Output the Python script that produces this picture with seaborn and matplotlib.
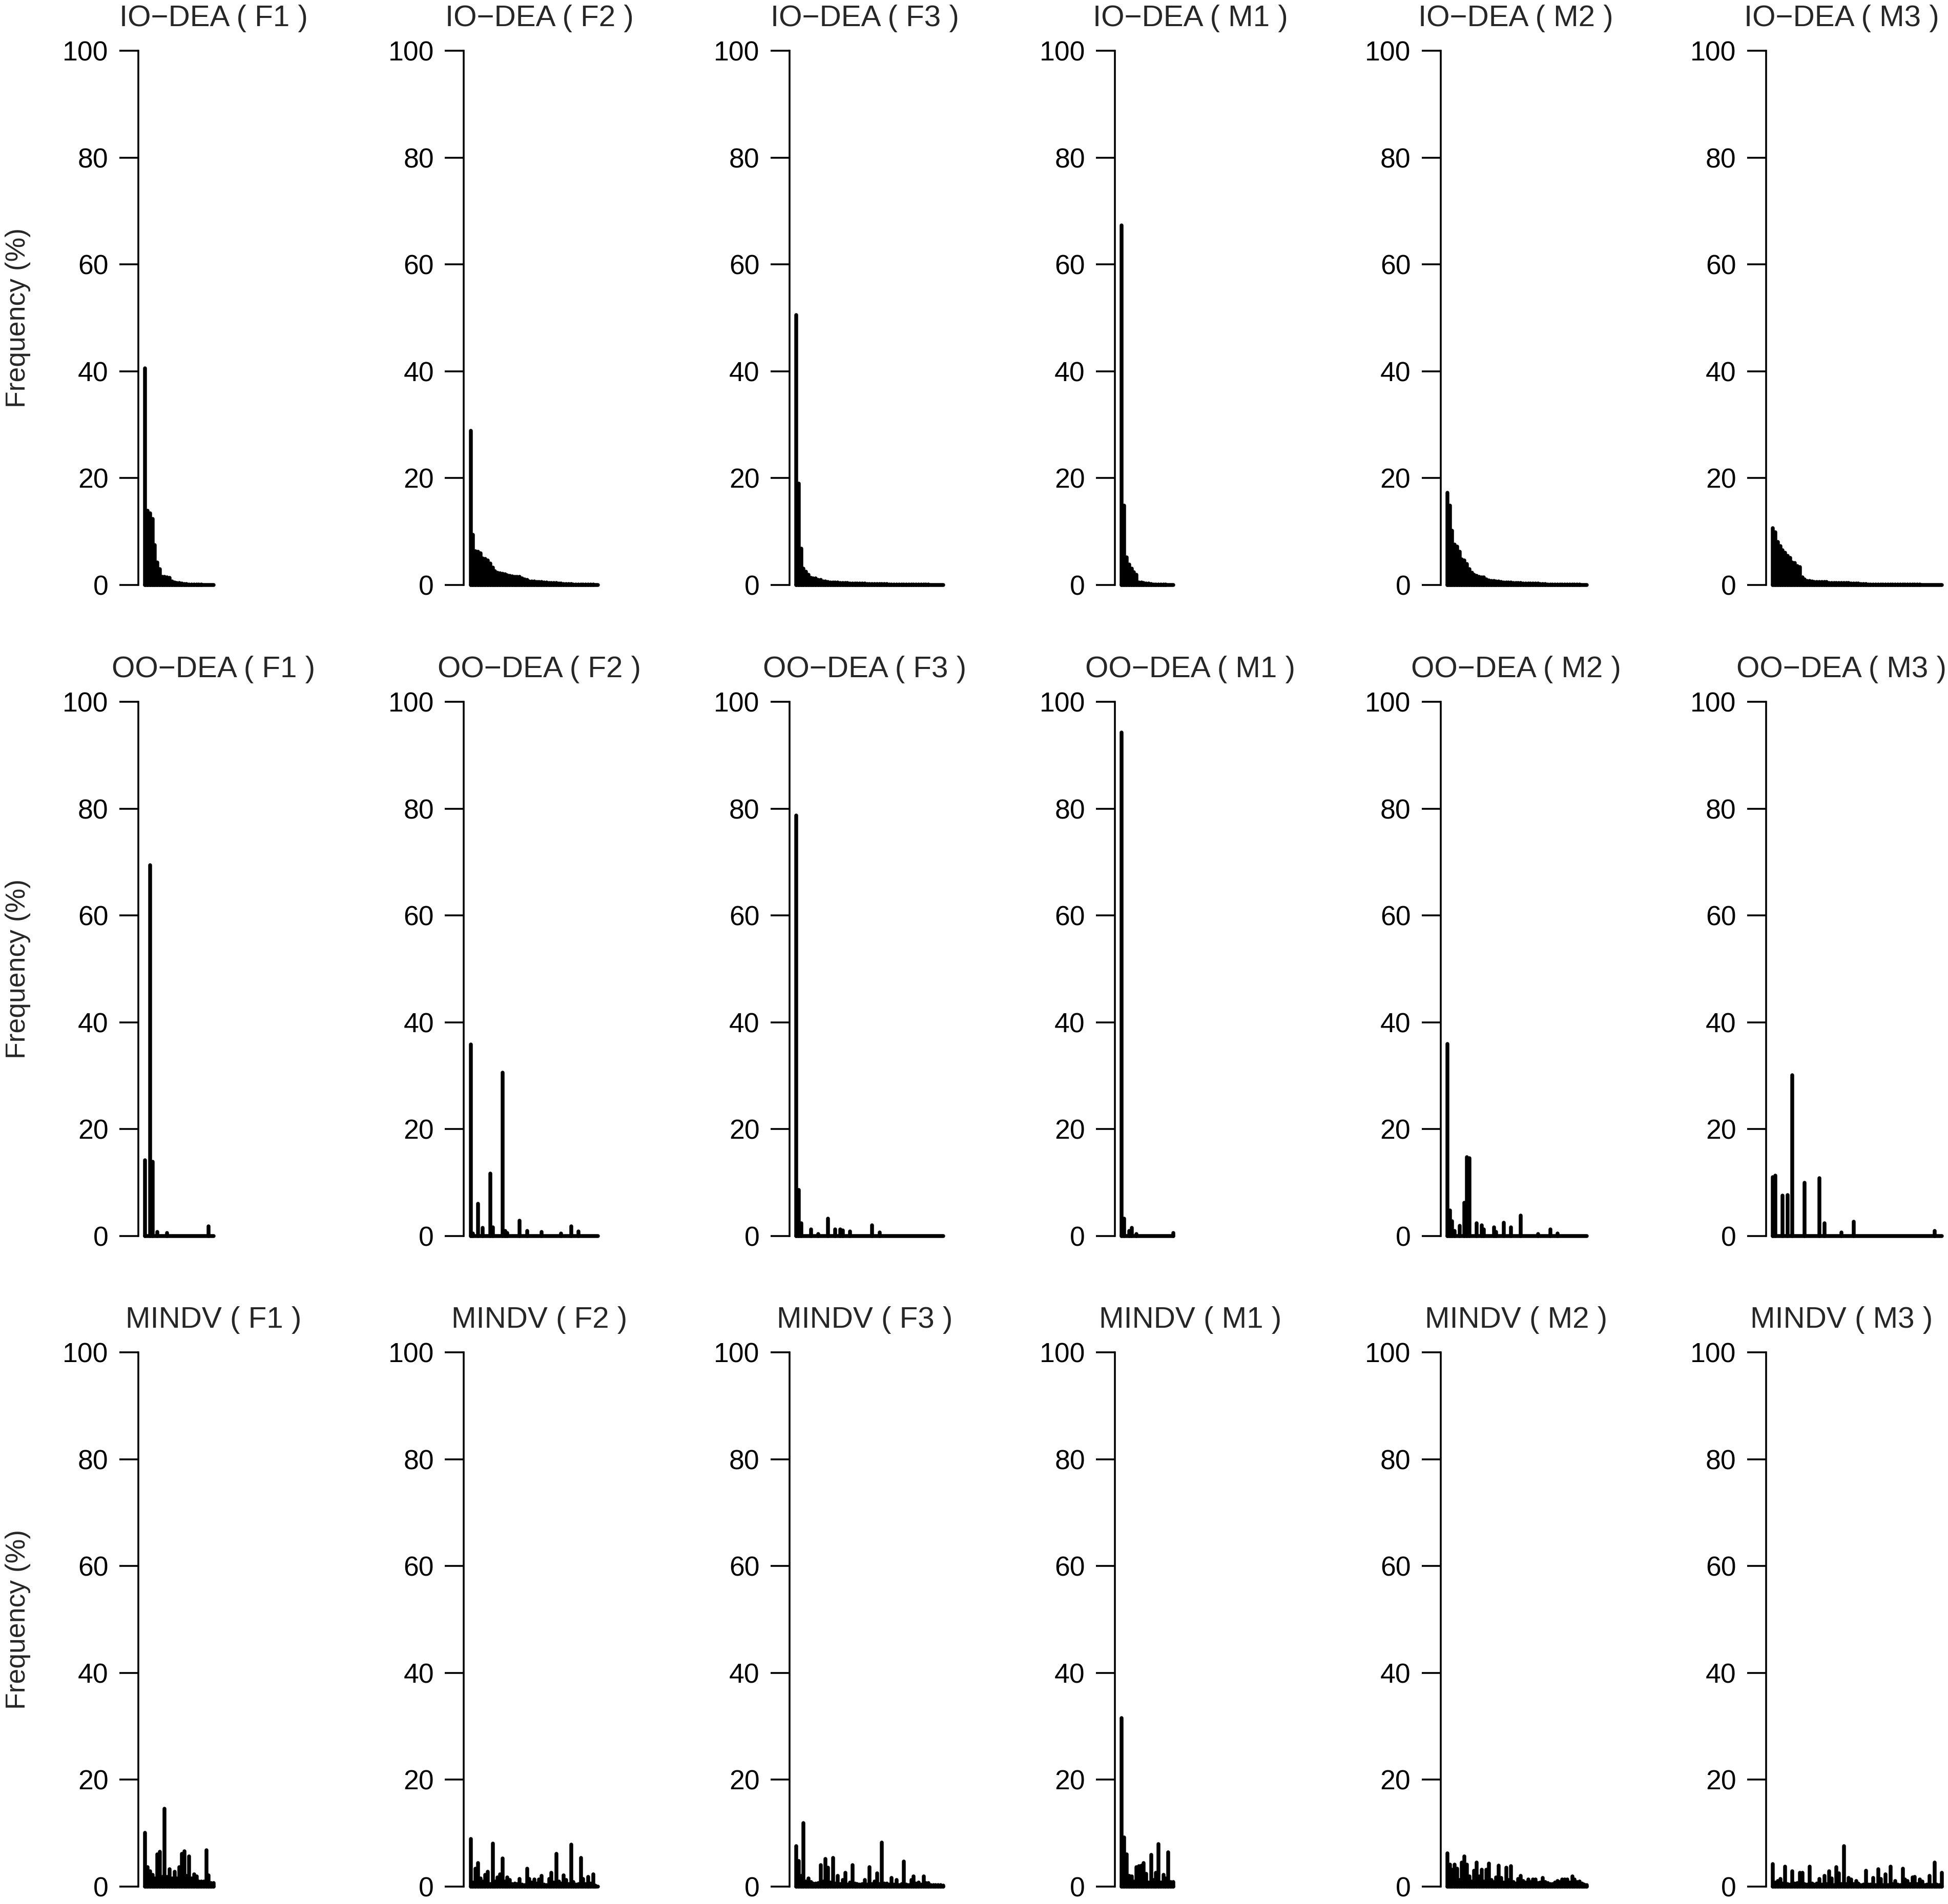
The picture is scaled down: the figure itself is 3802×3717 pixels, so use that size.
import numpy as np
import matplotlib
matplotlib.use("Agg")
import matplotlib.pyplot as plt
import seaborn as sns

# ---- data: frequency (%) per position ----
datasets = ["F1", "F2", "F3", "M1", "M2", "M3"]
methods = ["IO\u2212DEA", "OO\u2212DEA", "MINDV"]

# IO-DEA
io_f1 = [40.6, 13.9, 13.4, 12.4, 7.5, 4.2, 3.0, 1.5, 1.5, 1.4,
         1.3, 0.7, 0.45, 0.4, 0.35, 0.3, 0.2, 0.15, 0.12, 0.1,
         0.1, 0.08, 0.06, 0.05, 0.04, 0.03, 0.02, 0.02, 0.01]
io_f2 = [28.9, 9.4, 6.3, 6.2, 5.9, 5.0, 4.9, 4.6, 4.0, 3.3,
         2.6, 2.3, 2.2, 2.1, 2.0, 1.8, 1.7, 1.6, 1.55, 1.5,
         1.5, 1.2, 1.1, 1.0, 0.7, 0.68, 0.65, 0.6, 0.58, 0.55,
         0.5, 0.45, 0.42, 0.4, 0.38, 0.35, 0.33, 0.25, 0.22, 0.2,
         0.2, 0.15, 0.14, 0.12, 0.11, 0.1, 0.09, 0.08, 0.07, 0.06,
         0.05, 0.04, 0.03]
io_f3 = [50.5, 19.0, 6.8, 3.1, 2.5, 1.9, 1.3, 1.25, 1.2, 1.0,
         0.95, 0.7, 0.65, 0.55, 0.5, 0.5, 0.48, 0.45, 0.4, 0.38,
         0.36, 0.35, 0.33, 0.3, 0.28, 0.27, 0.26, 0.25, 0.24, 0.23,
         0.22, 0.2, 0.2, 0.18, 0.17, 0.16, 0.15, 0.15, 0.14, 0.13,
         0.12, 0.12, 0.11, 0.1, 0.1, 0.09, 0.09, 0.08, 0.08, 0.07,
         0.07, 0.06, 0.06, 0.05, 0.05, 0.04, 0.04, 0.03, 0.03, 0.02,
         0.02]
io_m1 = [67.3, 14.9, 5.2, 3.8, 3.1, 2.4, 1.9, 0.5, 0.45, 0.35,
         0.3, 0.3, 0.2, 0.12, 0.1, 0.08, 0.07, 0.06, 0.05, 0.04,
         0.03, 0.02]
io_m2 = [17.3, 14.9, 10.2, 7.6, 7.2, 6.2, 4.75, 4.6, 3.9, 3.0,
         2.3, 1.95, 1.75, 1.55, 1.45, 1.4, 1.05, 0.9, 0.8, 0.75,
         0.7, 0.67, 0.55, 0.52, 0.5, 0.48, 0.45, 0.43, 0.42, 0.4,
         0.35, 0.33, 0.31, 0.3, 0.28, 0.27, 0.25, 0.24, 0.23, 0.22,
         0.15, 0.14, 0.13, 0.12, 0.11, 0.1, 0.1, 0.09, 0.08, 0.08,
         0.07, 0.06, 0.06, 0.05, 0.05, 0.04, 0.04, 0.03]
io_m3 = [10.65, 9.85, 8.1, 7.3, 6.5, 6.0, 5.5, 5.05, 4.2, 4.1,
         3.5, 3.4, 1.4, 1.05, 0.8, 0.75, 0.65, 0.62, 0.6, 0.58,
         0.57, 0.56, 0.55, 0.42, 0.41, 0.4, 0.39, 0.38, 0.37, 0.36,
         0.35, 0.35, 0.25, 0.25, 0.24, 0.24, 0.23, 0.23, 0.22, 0.12,
         0.12, 0.11, 0.11, 0.1, 0.1, 0.1, 0.09, 0.09, 0.09, 0.08,
         0.08, 0.08, 0.07, 0.07, 0.07, 0.06, 0.06, 0.06, 0.05, 0.05,
         0.05, 0.04, 0.04, 0.04, 0.03, 0.03, 0.03, 0.02, 0.02, 0.02]

# OO-DEA
oo_f1 = [14.2, 0, 69.4, 13.9, 0, 0.8, 0, 0, 0, 0.6,
         0, 0, 0, 0, 0, 0, 0, 0, 0, 0,
         0, 0, 0, 0, 0, 0, 1.8, 0, 0]
oo_f2 = [35.9, 0.5, 0, 6.0, 0, 1.5, 0, 0, 11.7, 1.6,
         0, 0, 0, 30.6, 1.0, 0.6, 0, 0, 0, 0,
         2.9, 0, 0, 1.0, 0, 0, 0, 0, 0, 0.8,
         0, 0, 0, 0, 0, 0, 0, 0.45, 0, 0,
         0, 1.8, 0, 0, 0.9, 0, 0, 0, 0, 0,
         0, 0, 0]
oo_f3 = [78.7, 8.6, 2.4, 0, 0, 0, 1.2, 0, 0, 0.4,
         0, 0, 0, 3.3, 0, 0, 1.2, 0, 1.2, 1.1,
         0, 0, 0.9, 0, 0, 0, 0, 0, 0, 0,
         0, 2.0, 0, 0, 0.7, 0, 0, 0, 0, 0,
         0, 0, 0, 0, 0, 0, 0, 0, 0, 0,
         0, 0, 0, 0, 0, 0, 0, 0, 0, 0,
         0]
oo_m1 = [94.2, 3.3, 0, 1.0, 1.5, 0, 0.35, 0, 0, 0,
         0, 0, 0, 0, 0, 0, 0, 0, 0, 0,
         0, 0.6]
oo_m2 = [36.0, 4.8, 2.8, 1.0, 0, 1.9, 0, 6.2, 14.8, 14.6,
         0, 0, 2.4, 0, 2.0, 1.25, 0, 0, 0, 1.6,
         0.8, 0, 0, 2.5, 0, 0, 1.6, 0, 0, 0,
         3.8, 0, 0, 0, 0, 0, 0, 0.35, 0, 0,
         0, 0, 1.25, 0, 0, 0.45, 0, 0, 0, 0,
         0, 0, 0, 0, 0, 0, 0, 0]
oo_m3 = [11.0, 11.3, 0, 0, 7.6, 0, 7.7, 0, 30.1, 0,
         0, 0, 0, 10.0, 0, 0, 0, 0, 0, 10.8,
         0, 2.4, 0, 0, 0, 0, 0, 0, 0.7, 0,
         0, 0, 0, 2.7, 0, 0, 0, 0, 0, 0,
         0, 0, 0, 0, 0, 0, 0, 0, 0, 0,
         0, 0, 0, 0, 0, 0, 0, 0, 0, 0,
         0, 0, 0, 0, 0, 0, 1.0, 0, 0, 0]

# MINDV
mv_f1 = [10.1, 3.6, 2.9, 2.2, 1.5, 6.0, 6.5, 1.8, 14.6, 1.8,
         3.3, 1.5, 2.8, 1.5, 3.6, 6.1, 6.6, 2.0, 5.7, 1.5,
         2.3, 1.9, 1.0, 1.0, 1.0, 6.8, 2.1, 0.7, 0.7]
mv_f2 = [8.9, 0.8, 3.4, 4.4, 1.5, 1.0, 2.2, 2.8, 0.5, 8.1,
         1.0, 1.7, 2.3, 5.3, 1.0, 1.7, 1.25, 0.5, 0.6, 0.5,
         1.4, 0.4, 0.3, 3.4, 1.4, 0.8, 1.3, 0.6, 1.3, 2.0,
         0.4, 0.3, 1.4, 2.6, 0.8, 6.1, 1.0, 0.6, 2.1, 1.2,
         0.5, 7.9, 0.9, 0.4, 0.5, 5.4, 1.4, 0.5, 1.8, 0.6,
         2.3, 0.2, 0]
mv_f3 = [7.6, 4.8, 2.0, 11.9, 1.0, 1.5, 0.9, 0.6, 0.6, 0.7,
         4.0, 1.0, 5.2, 3.5, 0.8, 5.4, 0.6, 2.0, 0.5, 1.2,
         2.6, 0.4, 0.8, 4.0, 0.6, 0.5, 0.4, 0.5, 1.2, 0.4,
         3.6, 0.5, 1.0, 2.5, 0.5, 8.2, 0.6, 0.6, 0.4, 1.6,
         0.4, 1.2, 0.3, 0.5, 4.7, 0.4, 0.3, 1.2, 1.9, 0.6,
         0.8, 0.4, 1.9, 0.7, 0.7, 0.3, 0.3, 0.3, 0.3, 0.3,
         0.2]
mv_m1 = [31.5, 9.2, 6.0, 2.0, 1.9, 1.0, 3.6, 3.8, 3.9, 4.4,
         2.4, 0.8, 5.9, 1.2, 2.6, 8.0, 0.8, 2.2, 1.5, 6.4,
         0.9, 0.9]
mv_m2 = [6.2, 4.1, 3.2, 4.1, 3.4, 1.2, 4.5, 5.7, 4.1, 1.9,
         1.0, 3.0, 4.5, 1.9, 3.2, 1.0, 3.2, 4.3, 1.2, 0.9,
         1.7, 3.9, 1.6, 0.8, 3.5, 1.2, 3.8, 0.9, 0.6, 1.4,
         2.0, 1.1, 0.8, 1.3, 0.9, 1.3, 1.3, 0.7, 0.8, 1.6,
         0.9, 0.7, 0.5, 0.5, 0.8, 1.1, 0.9, 1.3, 1.3, 1.3,
         0.8, 1.9, 1.3, 0.9, 1.0, 0.6, 0.4, 0.3]
mv_m3 = [4.2, 0.8, 1.1, 1.4, 0.6, 3.7, 0.5, 0.4, 2.9, 0.6,
         0.7, 2.6, 2.6, 0.5, 0.4, 3.7, 0.6, 0.4, 0.6, 1.4,
         0.4, 2.0, 0.5, 2.9, 1.5, 0.3, 3.6, 2.5, 0.5, 7.6,
         0.5, 1.6, 1.3, 0.5, 1.1, 0.6, 0.3, 0.4, 3.0, 0.4,
         0.4, 1.6, 0.3, 3.3, 1.4, 0.3, 2.3, 0.3, 3.7, 0.5,
         1.1, 0.4, 0.3, 3.4, 1.3, 1.1, 0.5, 1.7, 1.8, 0.5,
         1.3, 1.0, 0.3, 0.4, 2.0, 0.3, 4.5, 0.4, 0.3, 2.6]

freq = {
    methods[0]: [io_f1, io_f2, io_f3, io_m1, io_m2, io_m3],
    methods[1]: [oo_f1, oo_f2, oo_f3, oo_m1, oo_m2, oo_m3],
    methods[2]: [mv_f1, mv_f2, mv_f3, mv_m1, mv_m2, mv_m3],
}

# ---- style ----
sns.set_style("ticks")
plt.rcParams["font.family"] = ["Liberation Sans", "DejaVu Sans"]
FS_TITLE = 42
FS_TICK = 38.5
FS_LABEL = 38.5

W, H = 3802, 3717
fig = plt.figure(figsize=(W / 100, H / 100), dpi=100)

# panel geometry in pixels
col_left = [270 + 635.4 * c for c in range(6)]
row_zero = [1142, 2413, 3683]
unit_y = 10.43
unit_x = 4.78
n_max = 70
x_lo, x_hi = 1 - 0.04 * (n_max - 1), n_max + 0.04 * (n_max - 1)
ax_w = (x_hi - x_lo) * unit_x
ax_h = 108 * unit_y
title_dx = 147  # title centre, px right of the y axis

for r, method in enumerate(methods):
    for c, ds in enumerate(datasets):
        vals = freq[method][c]
        x = np.arange(1, len(vals) + 1)

        bottom_px = row_zero[r] + 4 * unit_y
        ax = fig.add_axes([col_left[c] / W, 1 - bottom_px / H, ax_w / W, ax_h / H])

        # histogram-like vertical lines (R type="h")
        ax.hlines(0, x[0], x[-1], colors="black", linewidth=5.4, capstyle="round")
        ax.vlines(x, 0, vals, colors="black", linewidth=5.4, capstyle="round")

        ax.set_xlim(x_lo, x_hi)
        ax.set_ylim(-4, 104)
        ax.set_xticks([])
        ax.set_yticks(range(0, 101, 20))
        ax.tick_params(axis="y", length=27, width=2.6, pad=15, labelsize=FS_TICK,
                       color="black", labelcolor="black")
        sns.despine(ax=ax, bottom=True)
        ax.spines["left"].set_bounds(0, 100)
        ax.spines["left"].set_linewidth(2.6)
        ax.spines["left"].set_color("black")
        ax.set_facecolor("white")

        ax.text(title_dx / ax_w, 1 + 21 / ax_h, f"{method} ( {ds} )",
                transform=ax.transAxes, ha="center", va="center",
                fontsize=FS_TITLE)

    yc = row_zero[r] - 50 * unit_y
    fig.text(35 / W, 1 - yc / H, "Frequency (%)", rotation=90,
             ha="center", va="center", fontsize=FS_LABEL)

fig.savefig("out.png", dpi=100, facecolor="white")
